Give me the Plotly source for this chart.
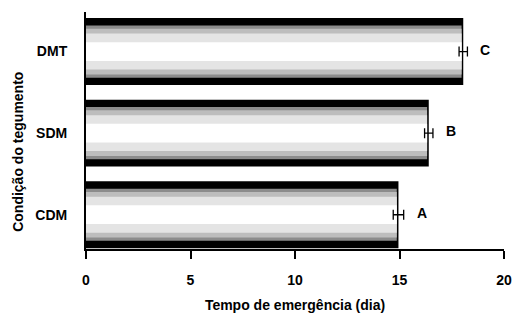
import plotly.graph_objects as go

categories = ["CDM", "SDM", "DMT"]
values = [14.95, 16.4, 18.05]
errors = [0.25, 0.2, 0.2]
letters = ["A", "B", "C"]

FONT = "Liberation Sans, Arial, sans-serif"

fig = go.Figure()

# layered bars to imitate the shaded fill (black edge -> grey -> white centre)
layers = [
    ("#000000", 0.82, 0.0),
    ("#8c8c8c", 0.64, 0.08),
    ("#bdbdbd", 0.56, 0.08),
    ("#e4e4e4", 0.44, 0.08),
    ("#ffffff", 0.23, 0.08),
]
for color, width, inset in layers:
    fig.add_trace(go.Bar(
        x=[v - inset for v in values], y=categories, orientation="h",
        width=width, marker=dict(color=color, line=dict(width=0)),
        showlegend=False, hoverinfo="skip",
    ))

fig.add_trace(go.Scatter(
    x=values, y=categories, mode="markers",
    marker=dict(size=1, color="rgba(0,0,0,0)"),
    error_x=dict(type="data", array=errors, visible=True, color="black",
                 thickness=1.3, width=5),
    showlegend=False, hoverinfo="skip",
))

for v, e, c, t in zip(values, errors, categories, letters):
    fig.add_annotation(x=v + e, y=c, text=t, showarrow=False,
                       xanchor="left", xshift=11, yshift=2,
                       font=dict(family=FONT, size=14, color="black", weight="bold"))

# y-axis title as an annotation (it sits a bit below the axis centre)
fig.add_annotation(text="Condição do tegumento", xref="paper", yref="paper",
                   x=0, y=0.41, xanchor="center", yanchor="middle",
                   xshift=-68, textangle=-90, showarrow=False,
                   font=dict(family=FONT, size=14, color="black", weight="bold"))

fig.update_layout(
    width=514, height=326,
    margin=dict(l=86, r=10, t=12, b=77),
    barmode="overlay",
    paper_bgcolor="white", plot_bgcolor="white",
    font=dict(family=FONT, size=14, color="black", weight="bold"),
    xaxis=dict(
        range=[0, 20], tickvals=[0, 5, 10, 15, 20],
        showgrid=False, zeroline=False, automargin=False,
        showline=True, linecolor="black", linewidth=2,
        ticks="outside", ticklen=8, tickwidth=2, tickcolor="black",
        ticklabelstandoff=9,
        tickfont=dict(family=FONT, size=14, weight="bold"),
        title=dict(text="Tempo de emergência (dia)", standoff=13,
                   font=dict(family=FONT, size=14, weight="bold")),
    ),
    yaxis=dict(
        categoryorder="array", categoryarray=categories,
        range=[-0.42, 2.485],
        showgrid=False, zeroline=False, automargin=False,
        showline=True, linecolor="black", linewidth=2,
        ticks="", ticklabelstandoff=14,
        tickfont=dict(family=FONT, size=14, weight="bold"),
    ),
)

fig.write_html("out.html")
